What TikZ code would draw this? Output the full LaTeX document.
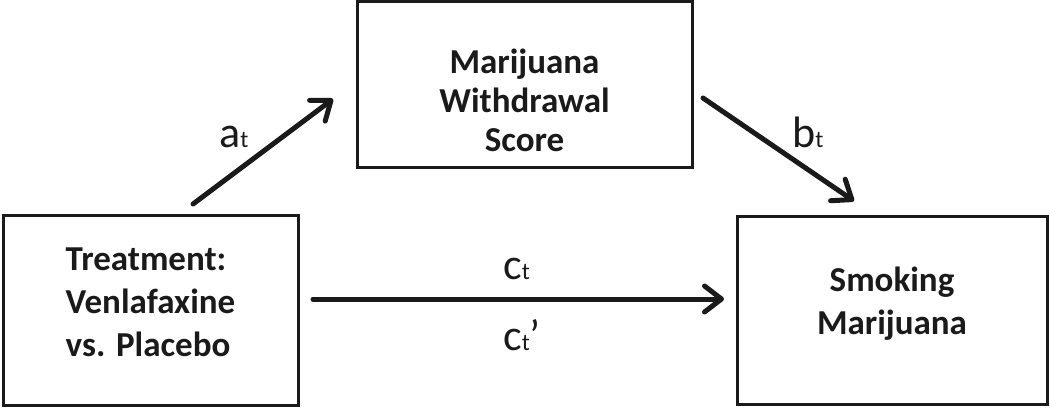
\documentclass[tikz,border=0pt]{standalone}
\usepackage{fontspec}
\setmainfont{Carlito}
\usetikzlibrary{arrows.meta}
\definecolor{ink}{HTML}{1A1A1A}
\tikzset{
  box/.style={draw=ink, line width=3pt, inner sep=0pt},
  boxtext/.style={inner sep=0pt, align=center, text=ink,
    font=\bfseries\fontsize{35}{43}\selectfont},
  arr/.style={draw=ink, line width=5pt, line cap=round,
    -{Straight Barb[length=17pt,width=26pt,line cap=round,line join=round]}},
  lab/.style={anchor=base west, inner sep=0pt, text=ink}
}
\newcommand{\lbl}[2]{{\fontsize{44}{48}\selectfont #1}{\fontsize{24}{26}\selectfont #2}}
\begin{document}
\begin{tikzpicture}[x=1pt,y=-1pt]
\useasboundingbox (0,0) rectangle (1050,409);
\node[box, minimum width=295pt, minimum height=190pt] (L) at (150.5,310) {};
\node[box, minimum width=335pt, minimum height=166pt] (M) at (524.5,85) {};
\node[box, minimum width=310pt, minimum height=188pt] (R) at (892,310) {};
\node[boxtext, align=left] (Lt) at (150.5,302) {Treatment:\\Venlafaxine\\vs. Placebo};
\node[boxtext, font=\bfseries\fontsize{35}{39}\selectfont] (Mt) at (524.5,100) {Marijuana\\Withdrawal\\Score};
\node[boxtext] (Rt) at (892,304) {Smoking\\Marijuana};
\coordinate (a1) at (193,204);
\coordinate (a2) at (333,99);
\coordinate (b1) at (703,98);
\coordinate (b2) at (854,201);
\coordinate (c1) at (313,299);
\coordinate (c2) at (724,299);
\draw[arr] (a1) -- (a2);
\draw[arr] (b1) -- (b2);
\draw[arr] (c1) -- (c2);
\node[lab] (la) at (219,148) {\lbl{a}{t}};
\node[lab] (lb) at (792,148) {\lbl{b}{t}};
\node[lab] (lc) at (503,279) {\lbl{c}{t}};
\node[lab] (lc2) at (503,350) {\lbl{c}{t}{\fontsize{44}{48}\selectfont ’}};
\end{tikzpicture}
\end{document}
